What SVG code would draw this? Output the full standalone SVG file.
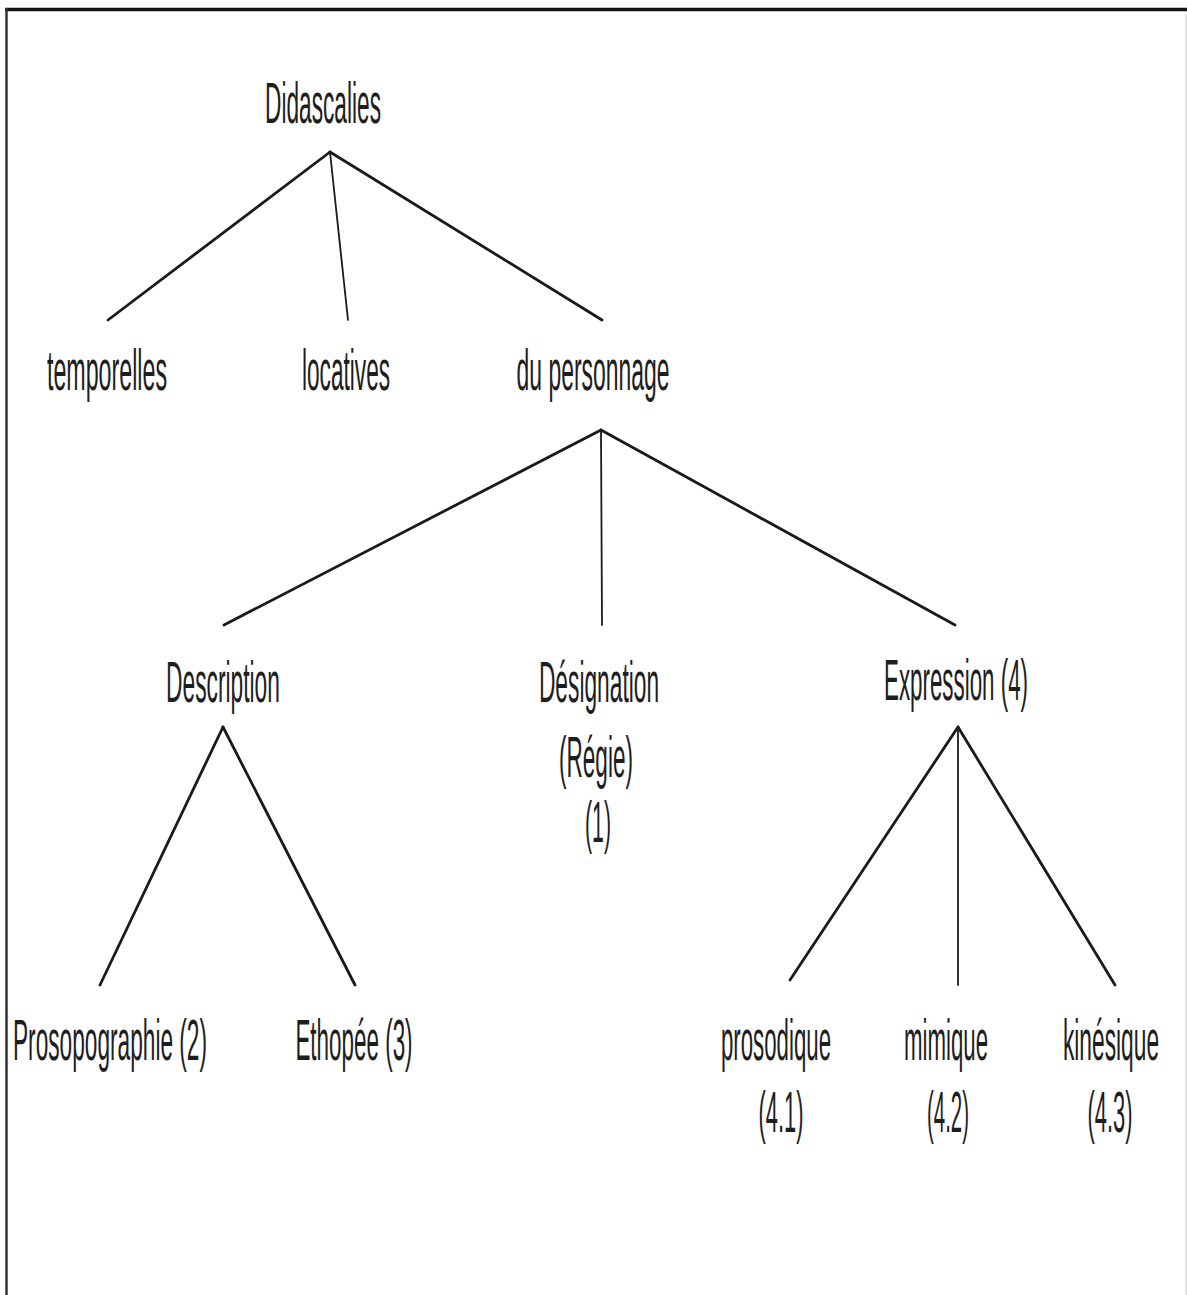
<svg xmlns="http://www.w3.org/2000/svg" width="1187" height="1295" viewBox="0 0 1187 1295">
<style>
text{font-family:"Liberation Sans",Arial,sans-serif;font-size:57px;fill:#1e1e1e;text-anchor:middle}
.c line{stroke:#1a1a1a;stroke-width:2.8;stroke-linecap:round}
.c line.v{stroke-width:1.8}
</style>
<rect width="1187" height="1295" fill="#fff"/>
<g id="frame">
<line x1="5" y1="9.5" x2="1187" y2="9.5" stroke="#151515" stroke-width="3.5"/>
<line x1="6.5" y1="8" x2="6.5" y2="1295" stroke="#333" stroke-width="2.5"/>
<line x1="1186" y1="14" x2="1186" y2="1295" stroke="#d8d8d8" stroke-width="1.5"/>
</g>
<g class="c" id="connectors">
<line x1="330" y1="152" x2="108" y2="320"/>
<line class="v" x1="330" y1="152" x2="348" y2="320"/>
<line x1="330" y1="152" x2="602" y2="320"/>
<line x1="601" y1="430" x2="224" y2="625"/>
<line class="v" x1="601" y1="430" x2="602" y2="625"/>
<line x1="601" y1="430" x2="955" y2="625"/>
<line x1="223" y1="727" x2="100" y2="985"/>
<line x1="223" y1="727" x2="355" y2="985"/>
<line x1="958" y1="727" x2="790" y2="980"/>
<line class="v" x1="958" y1="727" x2="958" y2="985"/>
<line x1="958" y1="727" x2="1115" y2="985"/>
</g>
<g id="n-didascalies"><text transform="translate(323,123) scale(0.42,1)" textLength="276" lengthAdjust="spacingAndGlyphs">Didascalies</text></g>
<g id="n-temporelles"><text transform="translate(107,390) scale(0.42,1)" textLength="286" lengthAdjust="spacingAndGlyphs">temporelles</text></g>
<g id="n-locatives"><text transform="translate(346,390) scale(0.42,1)" textLength="210" lengthAdjust="spacingAndGlyphs">locatives</text></g>
<g id="n-personnage"><text transform="translate(593,390) scale(0.42,1)" textLength="364" lengthAdjust="spacingAndGlyphs">du personnage</text></g>
<g id="n-description"><text transform="translate(223,702) scale(0.42,1)" textLength="271" lengthAdjust="spacingAndGlyphs">Description</text></g>
<g id="n-designation">
<text transform="translate(599,702) scale(0.42,1)" textLength="286" lengthAdjust="spacingAndGlyphs">Désignation</text>
<text transform="translate(596,777) scale(0.42,1)" textLength="176" lengthAdjust="spacingAndGlyphs">(Régie)</text>
<text transform="translate(598,842) scale(0.42,1)" textLength="62" lengthAdjust="spacingAndGlyphs">(1)</text>
</g>
<g id="n-expression"><text transform="translate(956,700) scale(0.42,1)" textLength="343" lengthAdjust="spacingAndGlyphs">Expression (4)</text></g>
<g id="n-prosopographie"><text transform="translate(110,1060) scale(0.42,1)" textLength="462" lengthAdjust="spacingAndGlyphs">Prosopographie (2)</text></g>
<g id="n-ethopee"><text transform="translate(354,1060) scale(0.42,1)" textLength="279" lengthAdjust="spacingAndGlyphs">Ethopée (3)</text></g>
<g id="n-prosodique">
<text transform="translate(776,1060) scale(0.42,1)" textLength="262" lengthAdjust="spacingAndGlyphs">prosodique</text>
<text transform="translate(781,1132) scale(0.42,1)" textLength="107" lengthAdjust="spacingAndGlyphs">(4.1)</text>
</g>
<g id="n-mimique">
<text transform="translate(946,1060) scale(0.42,1)" textLength="200" lengthAdjust="spacingAndGlyphs">mimique</text>
<text transform="translate(948,1132) scale(0.42,1)" textLength="100" lengthAdjust="spacingAndGlyphs">(4.2)</text>
</g>
<g id="n-kinesique">
<text transform="translate(1111,1060) scale(0.42,1)" textLength="229" lengthAdjust="spacingAndGlyphs">kinésique</text>
<text transform="translate(1110,1132) scale(0.42,1)" textLength="107" lengthAdjust="spacingAndGlyphs">(4.3)</text>
</g>
</svg>
